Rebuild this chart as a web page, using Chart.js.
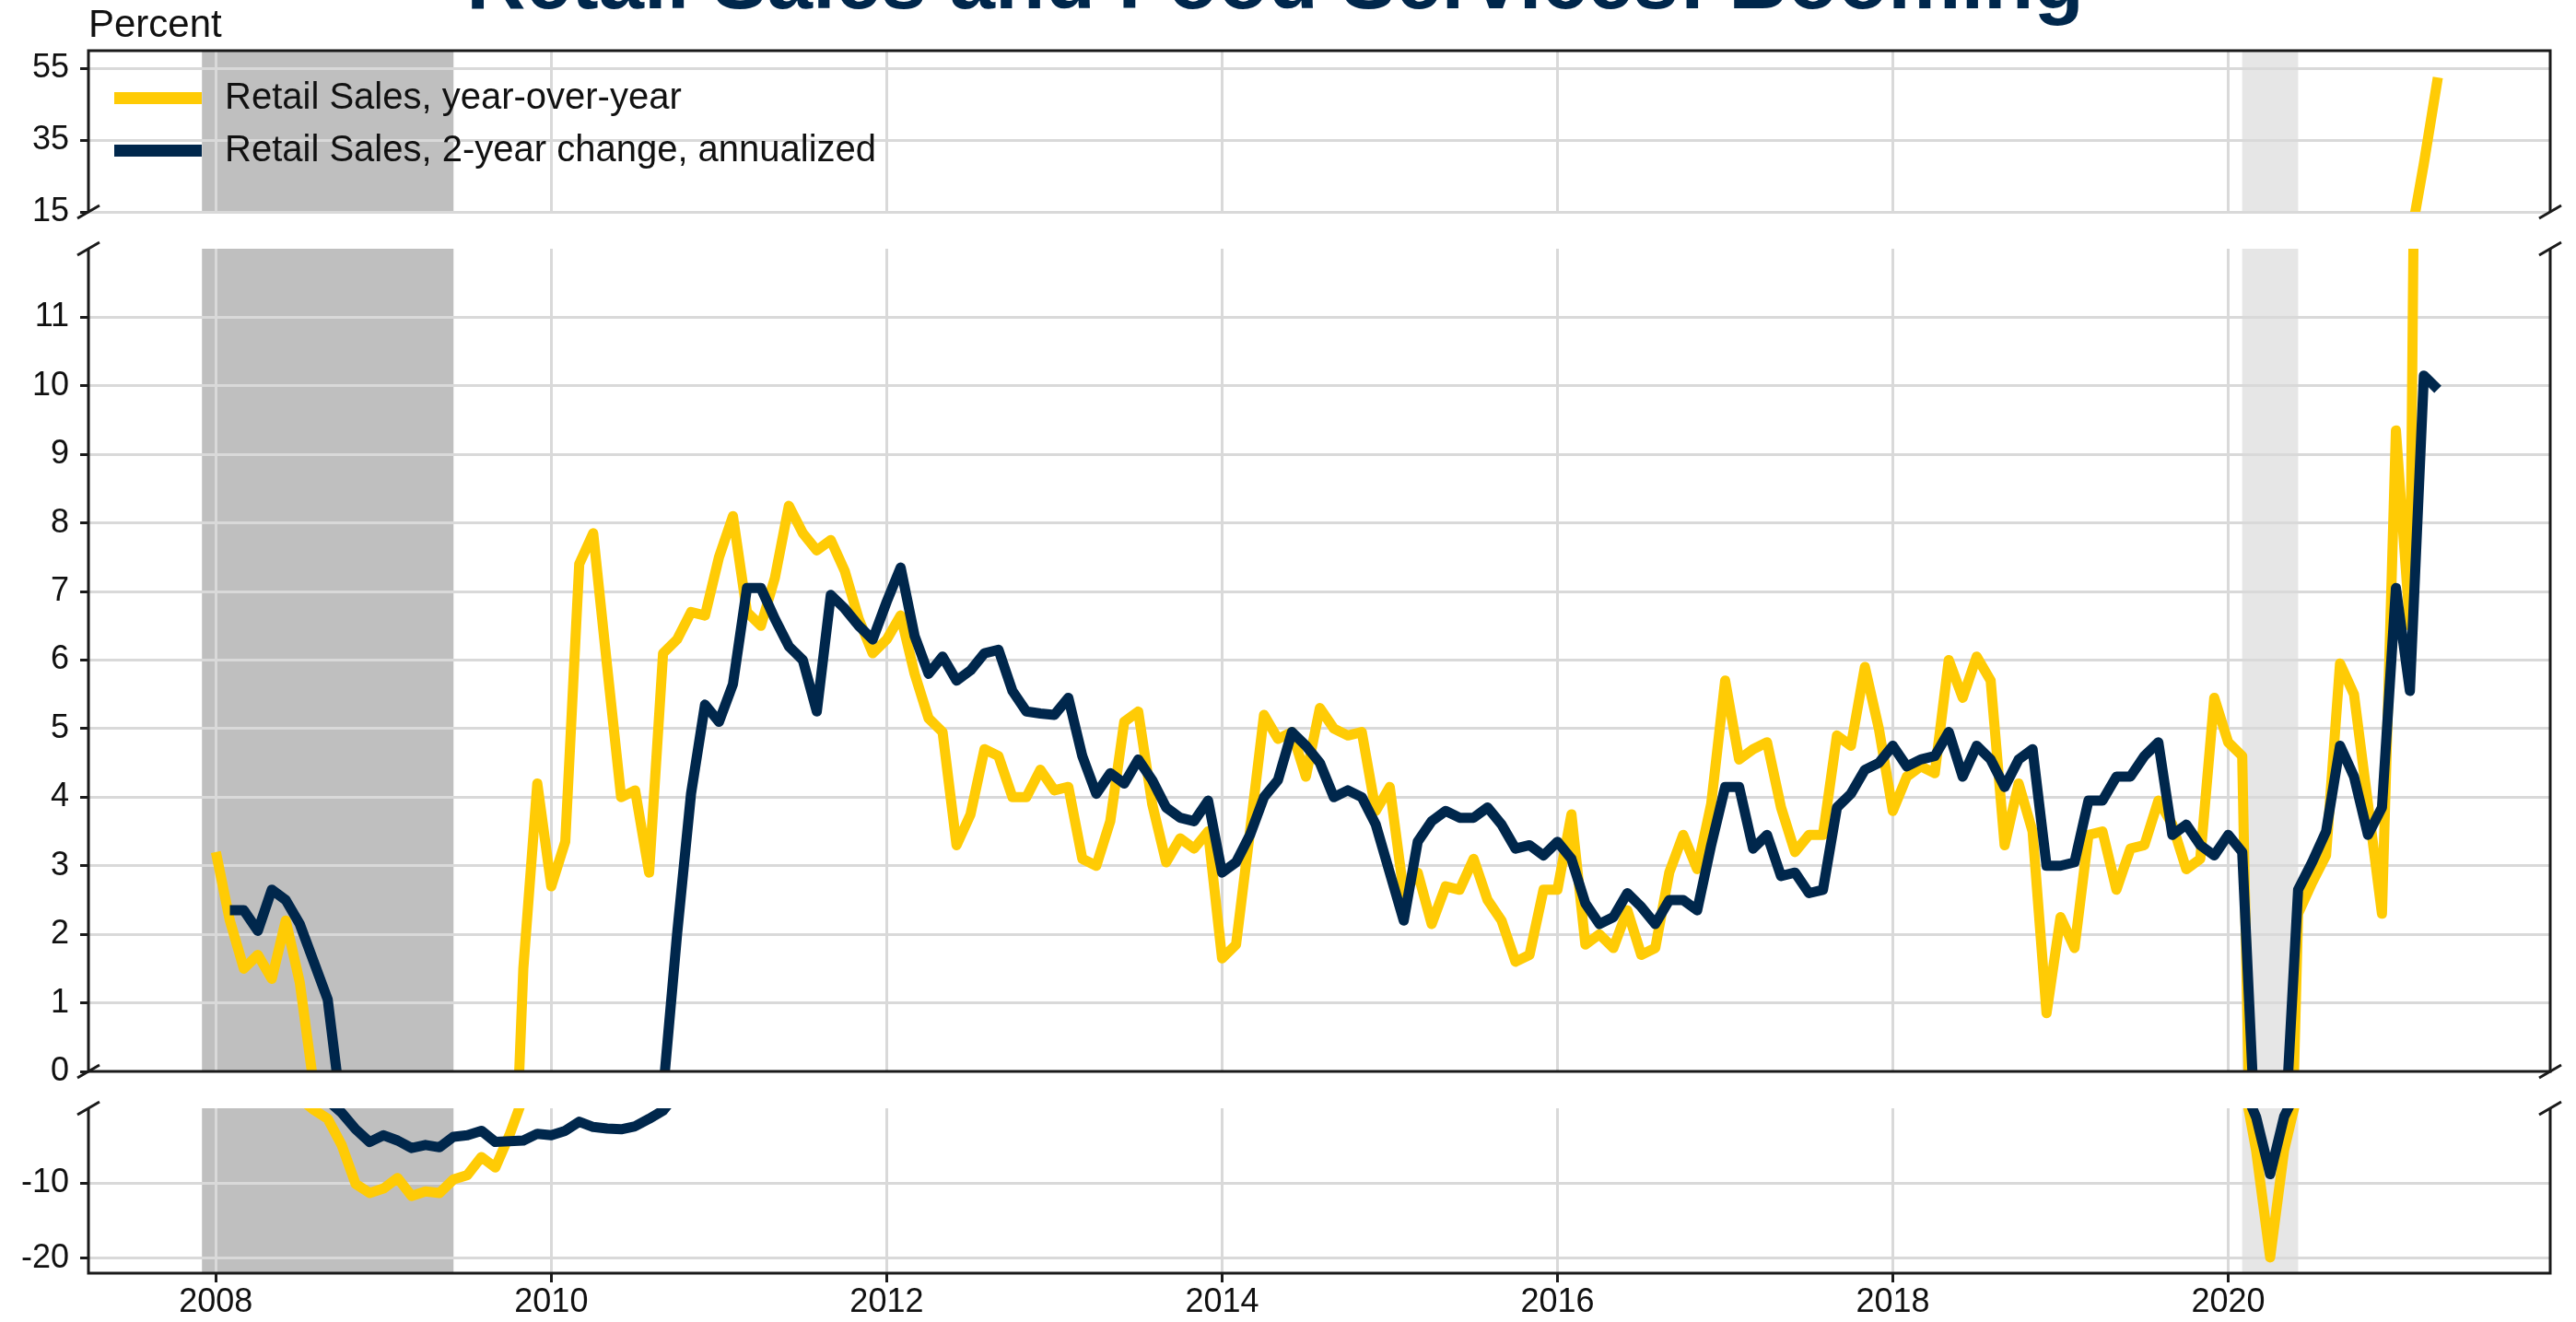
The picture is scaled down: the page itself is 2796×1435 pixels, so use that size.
<!DOCTYPE html>
<html>
<head>
<meta charset="utf-8">
<script src="https://cdn.jsdelivr.net/npm/chart.js@4.4.1/dist/chart.umd.min.js"></script>
<style>
  html, body { margin: 0; padding: 0; background: #fff; }
  body { width: 2796px; height: 1435px; position: relative; overflow: hidden;
         font-family: "Liberation Sans", Arial, sans-serif; }
  canvas { position: absolute; left: 0; top: 0; }
  #title { position: absolute; left: 0; width: 2768px; top: -66px; text-align: center;
           font-size: 89px; font-weight: bold; color: #00274c; line-height: 89px; white-space: nowrap; }
  #legend { position: absolute; left: 124px; top: 0; z-index: 5; }
  .item { position: absolute; left: 0; white-space: nowrap; }
  .swatch { position: absolute; left: 0; width: 95px; height: 13px; }
  .label { position: absolute; left: 120px; font-size: 40px; line-height: 40px; color: #111; }
</style>
</head>
<body>
<div id="title">Retail Sales and Food Services: Booming</div>
<canvas id="topChart" width="2796" height="1435"></canvas>
<canvas id="midChart" width="2796" height="1435"></canvas>
<canvas id="lowChart" width="2796" height="1435"></canvas>
<div id="legend"></div>
<script>
// monthly data, first value = Jan 2008
const startYear = 2008;

const yoyGrowth = [
  3.2, 2.2, 1.5, 1.7, 1.35, 2.2, 1.3, -0.2, -1.4, -4.9, -10.1, -11.3,
  -10.7, -9.3, -11.7, -11.1, -11.3, -9.5, -8.9, -6.5, -7.9, -3.6, 1.5, 4.2,
  2.7, 3.35, 7.4, 7.85, 5.9, 4.0, 4.1, 2.9, 6.1, 6.3, 6.7, 6.65,
  7.5, 8.1, 6.7, 6.5, 7.2, 8.25, 7.85, 7.6, 7.75, 7.3, 6.6, 6.1,
  6.3, 6.65, 5.8, 5.15, 4.95, 3.3, 3.75, 4.7, 4.6, 4.0, 4.0, 4.4,
  4.1, 4.15, 3.1, 3.0, 3.65, 5.1, 5.25, 3.9, 3.05, 3.4, 3.25, 3.5,
  1.65, 1.85, 3.5, 5.2, 4.85, 4.95, 4.3, 5.3, 5.0, 4.9, 4.95, 3.8,
  4.15, 2.6, 2.9, 2.15, 2.7, 2.65, 3.1, 2.5, 2.2, 1.6, 1.7, 2.65,
  2.65, 3.75, 1.85, 2.0, 1.8, 2.35, 1.7, 1.8, 2.9, 3.45, 2.95, 3.9,
  5.7, 4.55, 4.7, 4.8, 3.85, 3.2, 3.45, 3.45, 4.9, 4.75, 5.9, 5.0,
  3.8, 4.3, 4.45, 4.35, 6.0, 5.45, 6.05, 5.7, 3.3, 4.2, 3.5, 0.85,
  2.25, 1.8, 3.45, 3.5, 2.65, 3.25, 3.3, 3.95, 3.6, 2.95, 3.1, 5.45,
  4.8, 4.6, -5.7, -19.9, -5.6, 2.3, 2.75, 3.15, 5.95, 5.5, 3.9, 2.3,
  9.35, 6.5, 28.5, 52.5
];

const twoYearGrowth = [
  null, 2.35, 2.35, 2.05, 2.65, 2.5, 2.15, 1.6, 1.05, -0.6, -2.8, -4.5,
  -3.6, -4.3, -5.3, -4.9, -5.2, -3.8, -3.6, -3.0, -4.5, -4.4, -4.3, -3.4,
  -3.6, -3.0, -1.8, -2.5, -2.7, -2.8, -2.4, -1.4, -0.3, 2.0, 4.05, 5.35,
  5.1, 5.65, 7.05, 7.05, 6.6, 6.2, 6.0, 5.25, 6.95, 6.75, 6.5, 6.3,
  6.85, 7.35, 6.35, 5.8, 6.05, 5.7, 5.85, 6.1, 6.15, 5.55, 5.25, 5.22,
  5.2, 5.45, 4.6, 4.05, 4.35, 4.2, 4.55, 4.25, 3.85, 3.7, 3.65, 3.95,
  2.9, 3.05, 3.45, 4.0, 4.25, 4.95, 4.75, 4.5, 4.0, 4.1, 4.0, 3.6,
  2.9, 2.2, 3.35, 3.65, 3.8, 3.7, 3.7, 3.85, 3.6, 3.25, 3.3, 3.15,
  3.35, 3.1, 2.45, 2.15, 2.25, 2.6, 2.4, 2.15, 2.5, 2.5, 2.35, 3.3,
  4.15, 4.15, 3.25, 3.45, 2.85, 2.9, 2.6, 2.65, 3.85, 4.05, 4.4, 4.5,
  4.75, 4.45, 4.55, 4.6, 4.95, 4.3, 4.75, 4.55, 4.15, 4.55, 4.7, 3.0,
  3.0, 3.05, 3.95, 3.95, 4.3, 4.3, 4.6, 4.8, 3.45, 3.6, 3.3, 3.15,
  3.45, 3.2, -1.2, -8.8, -1.1, 2.65, 3.05, 3.5, 4.75, 4.3, 3.45, 3.85,
  7.05, 5.55, 10.15, 9.95
];

const seriesNames = ['Retail Sales, year-over-year', 'Retail Sales, 2-year change, annualized'];
const seriesColors = ['#ffcb05', '#00274c'];

const yearTicks = [2008, 2010, 2012, 2014, 2016, 2018, 2020];
const topTicks = [15, 35, 55];
const midTicks = [0, 1, 2, 3, 4, 5, 6, 7, 8, 9, 10, 11];
const lowTicks = [-20, -10];

// recessions (decimal years) and their shading
const recessions = [[2007.917, 2009.417], [2020.083, 2020.417]];
const recessionColors = ['#bfbfbf', '#e6e6e6'];

Chart.defaults.font.family = '"Liberation Sans", Arial, sans-serif';
Chart.defaults.color = '#111';

const toPoints = vals => vals.map((v, i) => ({ x: startYear + i / 12, y: v }));

const frameColor = '#1a1a1a';
const gridColor = '#d9d9d9';

const panelFrame = {
  id: 'panelFrame',
  beforeDraw(chart) {
    const { ctx, chartArea: a, scales: { x } } = chart;
    ctx.save();
    recessions.forEach((r, i) => {
      const x0 = x.getPixelForValue(r[0]);
      const x1 = x.getPixelForValue(r[1]);
      ctx.fillStyle = recessionColors[i];
      ctx.fillRect(x0, a.top, x1 - x0, a.bottom - a.top);
    });
    ctx.restore();
  },
  afterDraw(chart, args, opts) {
    const { ctx, chartArea: a } = chart;
    ctx.save();
    ctx.strokeStyle = frameColor;
    ctx.lineWidth = 3;
    ctx.beginPath();
    ctx.moveTo(a.left, a.top); ctx.lineTo(a.left, a.bottom);
    ctx.moveTo(a.right, a.top); ctx.lineTo(a.right, a.bottom);
    if (opts.top) { ctx.moveTo(a.left - 1.5, a.top); ctx.lineTo(a.right + 1.5, a.top); }
    if (opts.bottom) { ctx.moveTo(a.left - 1.5, a.bottom); ctx.lineTo(a.right + 1.5, a.bottom); }
    ctx.stroke();
    // axis break marks
    ctx.beginPath();
    (opts.breaks || []).forEach(edge => {
      const y = edge === 'top' ? a.top : a.bottom;
      [a.left, a.right].forEach(x => {
        ctx.moveTo(x - 12, y + 7);
        ctx.lineTo(x + 12, y - 7);
      });
    });
    ctx.stroke();
    // unit label above the axis
    if (opts.unit) {
      ctx.fillStyle = '#111';
      ctx.font = '42px "Liberation Sans", Arial, sans-serif';
      ctx.textBaseline = 'alphabetic';
      ctx.textAlign = 'left';
      ctx.fillText(opts.unit, a.left, 40);
    }
    ctx.restore();
  }
};

function makePanel(id, cfg) {
  const datasets = [0, 1].map(s => ({
    label: seriesNames[s],
    data: toPoints(s === 0 ? yoyGrowth : twoYearGrowth),
    borderColor: seriesColors[s],
    backgroundColor: seriesColors[s],
    borderWidth: 11,
    borderJoinStyle: 'round',
    pointRadius: 0,
    tension: 0,
    spanGaps: false,
    clip: 0,
    order: s === 0 ? 2 : 1
  }));

  return new Chart(document.getElementById(id), {
    type: 'line',
    data: { datasets },
    plugins: [panelFrame],
    options: {
      responsive: false,
      devicePixelRatio: 1,
      animation: false,
      events: [],
      layout: { padding: { top: cfg.padTop, bottom: cfg.padBottom, left: 0, right: 28 } },
      plugins: {
        legend: { display: false },
        tooltip: { enabled: false },
        panelFrame: cfg.frame
      },
      scales: {
        x: {
          type: 'linear',
          min: 2007.24,
          max: 2021.92,
          afterBuildTicks: scale => { scale.ticks = yearTicks.map(v => ({ value: v })); },
          afterFit: scale => { scale.height = cfg.xHeight; },
          border: { display: false },
          grid: {
            color: gridColor,
            lineWidth: 3,
            drawTicks: cfg.showX,
            tickLength: 10,
            tickWidth: 3,
            tickColor: frameColor
          },
          ticks: {
            display: cfg.showX,
            font: { size: 36 },
            color: '#111',
            padding: 0,
            maxRotation: 0,
            callback: v => String(v)
          }
        },
        y: {
          min: cfg.min,
          max: cfg.max,
          afterBuildTicks: scale => { scale.ticks = cfg.ticks.map(v => ({ value: v })); },
          afterFit: scale => { scale.width = 96; },
          border: { display: false },
          grid: {
            color: ctx => (cfg.hideGrid && cfg.hideGrid.includes(ctx.tick.value)) ? 'rgba(0,0,0,0)' : gridColor,
            lineWidth: 3,
            tickLength: 9,
            tickWidth: 3,
            tickColor: frameColor
          },
          ticks: {
            font: { size: 36 },
            color: '#111',
            padding: 12,
            callback: v => String(v)
          }
        }
      }
    }
  });
}

// upper panel 15..60, middle 0..12, lower -22..0
makePanel('topChart', {
  min: 15, max: 60, ticks: topTicks, padTop: 55, padBottom: 1435 - 230,
  xHeight: 0, showX: false,
  frame: { top: true, bottom: false, breaks: ['bottom'], unit: 'Percent' }
});
makePanel('midChart', {
  min: 0, max: 12, ticks: midTicks, hideGrid: [0], padTop: 270, padBottom: 1435 - 1163,
  xHeight: 0, showX: false,
  frame: { top: false, bottom: true, breaks: ['top', 'bottom'] }
});
makePanel('lowChart', {
  min: -22, max: 0, ticks: lowTicks, padTop: 1203, padBottom: 0,
  xHeight: 1435 - 1382, showX: true,
  frame: { top: false, bottom: true, breaks: ['top'] }
});

// legend inside the upper panel
const legend = document.getElementById('legend');
const rowTops = [100, 157];
seriesNames.forEach((name, i) => {
  const item = document.createElement('div');
  item.className = 'item';
  item.style.top = rowTops[i] + 'px';
  item.innerHTML = '<div class="swatch" style="background:' + seriesColors[i] + '"></div>' +
                   '<div class="label" style="top:-16px">' + name + '</div>';
  legend.appendChild(item);
});
</script>
</body>
</html>
